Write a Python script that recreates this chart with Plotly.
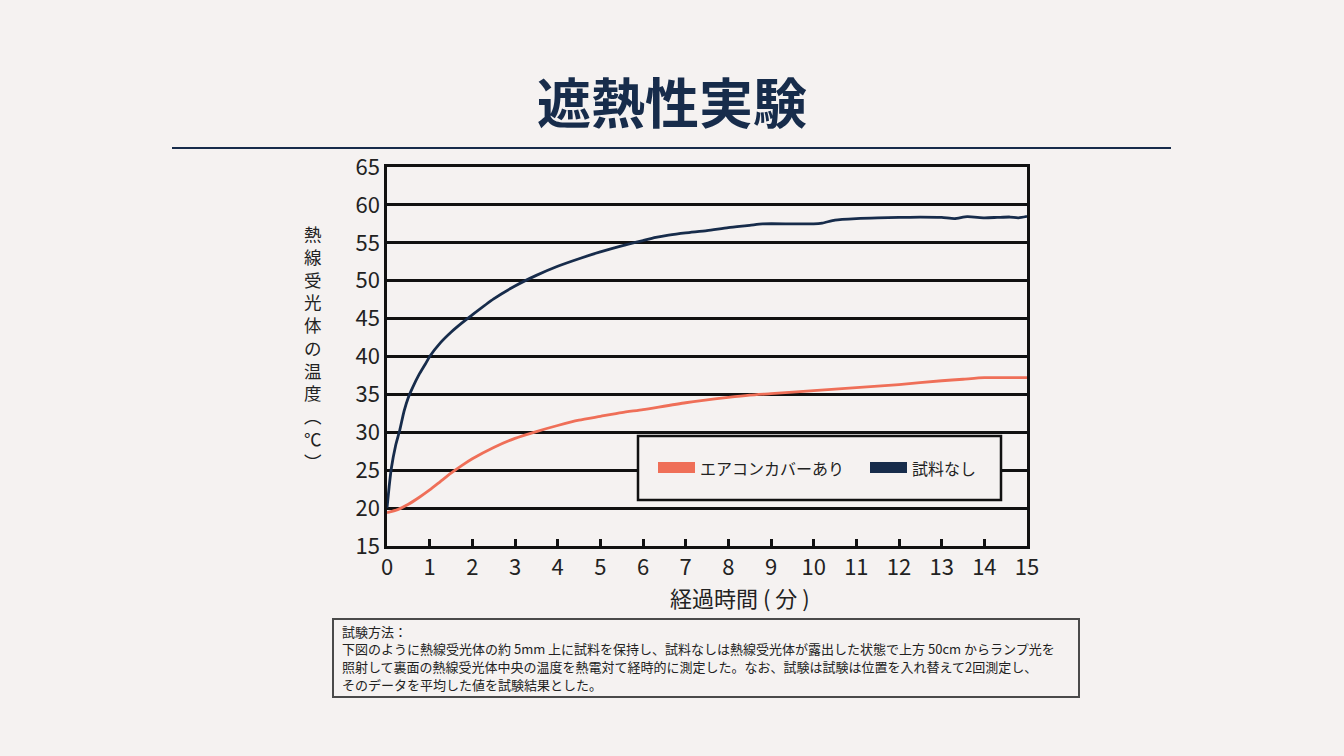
import plotly.graph_objects as go

# ---- data ----
time_cover = [0, 0.25, 0.5, 0.75, 1.0, 1.25, 1.5, 1.75, 2.0, 2.5, 3.0, 3.5, 4.0, 4.5, 5.0,
              5.5, 6.0, 7.0, 8.0, 8.5, 9.0, 10.0, 11.0, 12.0, 13.0, 13.5, 14.0, 15.0]
temp_cover = [19.4, 19.8, 20.5, 21.4, 22.4, 23.5, 24.6, 25.6, 26.5, 28.0, 29.2, 30.1, 30.9, 31.6, 32.1,
              32.6, 33.0, 33.9, 34.6, 34.9, 35.1, 35.5, 35.9, 36.3, 36.8, 37.0, 37.2, 37.2]

time_none = [0, 0.05, 0.1, 0.2, 0.3, 0.4, 0.5, 0.6, 0.75, 0.9, 1.0, 1.25, 1.5, 1.75, 2.0,
             2.5, 3.0, 3.5, 4.0, 4.5, 5.0, 5.5, 6.0, 6.3, 6.6, 7.0, 7.5, 8.0, 8.5, 8.8,
             9.5, 10.0, 10.2, 10.5, 11.0, 11.5, 12.0, 12.5, 13.0, 13.3, 13.6, 14.0, 14.3, 14.6, 14.8, 15.0]
temp_none = [20.0, 22.8, 25.2, 28.2, 30.3, 32.8, 34.6, 35.9, 37.6, 39.0, 40.0, 41.8, 43.2, 44.4, 45.5,
             47.6, 49.3, 50.7, 51.9, 52.9, 53.8, 54.6, 55.3, 55.7, 56.0, 56.3, 56.6, 57.0, 57.3, 57.5,
             57.5, 57.5, 57.6, 58.0, 58.2, 58.3, 58.35, 58.4, 58.35, 58.2, 58.45, 58.3, 58.35, 58.4, 58.3, 58.5]

x_ticks = list(range(0, 16))
y_ticks = list(range(15, 70, 5))

series_names = ["エアコンカバーあり", "試料なし"]
title_text = "遮熱性実験"
x_title = "経過時間 ( 分 )"
y_title_chars = ["熱", "線", "受", "光", "体", "の", "温", "度", "︵", "℃", "︶"]
note_lines = [
    "試験方法：",
    "下図のように熱線受光体の約 5mm 上に試料を保持し、試料なしは熱線受光体が露出した状態で上方 50cm からランプ光を",
    "照射して裏面の熱線受光体中央の温度を熱電対て経時的に測定した。なお、試験は試験は位置を入れ替えて2回測定し、",
    "そのデータを平均した値を試験結果とした。",
]

# ---- style ----
BG = "#f5f2f1"
NAVY = "#172c4b"
CORAL = "#ef6f58"
INK = "#111111"
TXT = "#222222"
FONT = "Noto Sans CJK JP"

W, H = 1344, 756
L, R, T, B = 387, 1027, 167, 546


def px(x):
    return (x - L) / (R - L)


def py(y):
    return (B - y) / (B - T)


fig = go.Figure()
fig.add_trace(go.Scatter(x=time_cover, y=temp_cover, mode="lines",
                         line=dict(color=CORAL, width=2.8, shape="spline", smoothing=0.6),
                         showlegend=False))
fig.add_trace(go.Scatter(x=time_none, y=temp_none, mode="lines",
                         line=dict(color=NAVY, width=2.8, shape="spline", smoothing=0.6),
                         showlegend=False))
# legend entries (thick swatches via filled legend symbol)
fig.add_trace(go.Scatter(x=[None], y=[None], mode="lines", name=series_names[0],
                         fill="toself", fillcolor=CORAL, line=dict(color=CORAL, width=10)))
fig.add_trace(go.Scatter(x=[None], y=[None], mode="lines", name=series_names[1],
                         fill="toself", fillcolor=NAVY, line=dict(color=NAVY, width=10)))

fig.update_layout(
    width=W, height=H, autosize=False,
    margin=dict(l=L, r=W - R, t=T, b=H - B, pad=0),
    paper_bgcolor=BG, plot_bgcolor=BG,
    font=dict(family=FONT, color=TXT),
    showlegend=True,
    legend=dict(orientation="h", x=px(653), y=py(469), xanchor="left", yanchor="middle",
                bgcolor="rgba(0,0,0,0)", borderwidth=0, entrywidth=160, itemwidth=37,
                font=dict(size=16, color=TXT, family=FONT)),
    xaxis=dict(range=[0, 15], tickvals=x_ticks, showgrid=False, zeroline=False,
               showline=True, linecolor=INK, linewidth=2.5, mirror=True,
               ticks="inside", ticklen=7, tickwidth=2.5, tickcolor=INK,
               tickfont=dict(size=22, color=TXT), fixedrange=True),
    yaxis=dict(range=[15, 65], tickvals=y_ticks, showgrid=True, gridcolor=INK, gridwidth=2.5,
               zeroline=False, showline=True, linecolor=INK, linewidth=2.5, mirror=True,
               ticks="", tickfont=dict(size=22, color=TXT), fixedrange=True),
)

shapes = []
# rule under title
shapes.append(dict(type="line", xref="paper", yref="paper", x0=px(172), x1=px(1171),
                   y0=py(148), y1=py(148), line=dict(color=NAVY, width=2)))
# legend frame
shapes.append(dict(type="rect", xref="paper", yref="paper", x0=px(638), x1=px(1001),
                   y0=py(500), y1=py(436), line=dict(color=INK, width=2.5),
                   fillcolor=BG, layer="above"))
# notes frame
shapes.append(dict(type="rect", xref="paper", yref="paper", x0=px(333), x1=px(1079),
                   y0=py(697), y1=py(619), line=dict(color="#4a4a4a", width=2),
                   fillcolor="rgba(0,0,0,0)"))
fig.update_layout(shapes=shapes)

annotations = []
annotations.append(dict(text=title_text, xref="paper", yref="paper", x=px(672), y=py(100),
                        xanchor="center", yanchor="middle", showarrow=False,
                        font=dict(size=54, color=NAVY, family=FONT, weight="bold")))
# x-axis title
annotations.append(dict(text=x_title, xref="paper", yref="paper", x=px(740), y=py(597),
                        xanchor="center", yanchor="middle", showarrow=False,
                        font=dict(size=22, color=TXT, family=FONT)))
# vertical (stacked) y-axis title
annotations.append(dict(text="<br>".join(y_title_chars), xref="paper", yref="paper",
                        x=px(313), y=py(347), xanchor="center", yanchor="middle",
                        showarrow=False, align="center",
                        font=dict(size=17.5, color=TXT, family=FONT)))
# notes
note_y = [631, 648.5, 666, 684]
for line, ly in zip(note_lines, note_y):
    annotations.append(dict(text=line, xref="paper", yref="paper", x=px(340), y=py(ly),
                            xanchor="left", yanchor="middle", showarrow=False,
                            font=dict(size=13, color=TXT, family=FONT)))
fig.update_layout(annotations=annotations)

fig.write_html("out.html", config={"displayModeBar": False},
               post_script="document.body.style.margin='0';document.body.style.overflow='hidden';")
